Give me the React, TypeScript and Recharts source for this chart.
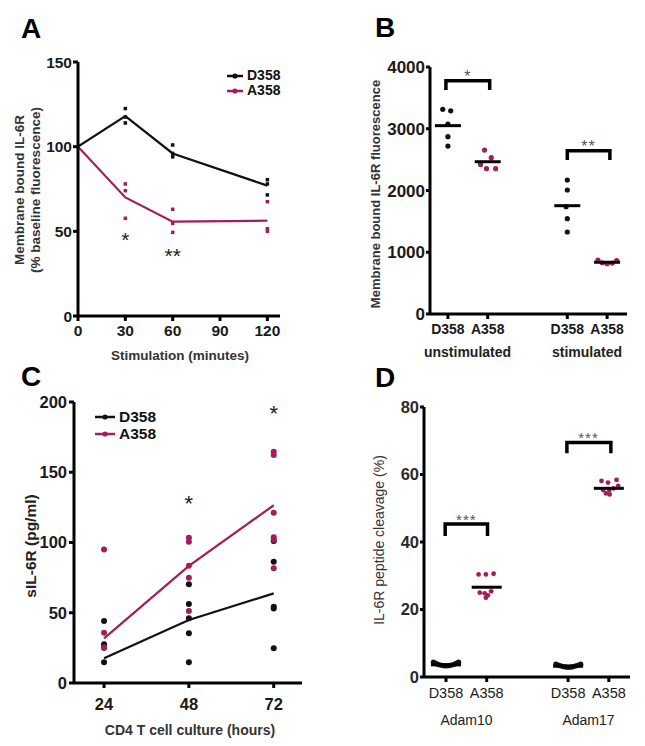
import React from 'react';
import { ComposedChart, Line, Scatter, XAxis, YAxis, Legend } from 'recharts';

const FONT = '"Liberation Sans", Arial, Helvetica, sans-serif';
const BLACK = '#111111';
const MAGENTA = '#a31d5b';
const seriesNames = ['D358', 'A358'];
const seriesColors = [BLACK, MAGENTA];

// ---------- Panel A ----------
const aTimes = [0, 30, 60, 120];
const aD358Mean = [100, 118, 96, 77];
const aA358Mean = [100, 70, 55.7, 56.3];
const aRepTimes = [30, 60, 120];
const aD358Reps = [[122.5, 117.5, 114], [101, 96, 94], [80.5, 78, 71.5]];
const aA358Reps = [[78, 74, 57.7], [63, 54.7, 49.4], [67.5, 51.5, 50]];
const aStarTimes = [30, 60];
const aStarValues = [47.8, 38.6];
const aStarLabels = ['*', '**'];
const aXTicks = [0, 30, 60, 90, 120];
const aYTicks = [0, 50, 100, 150];

// ---------- Panel B ----------
const bPositions = [1, 2, 4, 5];
const bTickLabels = ['D358', 'A358', 'D358', 'A358'];
const bGroupLabels = ['unstimulated', 'stimulated'];
const bValues = [
  [3314, 3291, 3076, 2871, 2720],
  [2655, 2531, 2423, 2353, 2353],
  [2169, 2008, 1738, 1543, 1328],
  [874, 830, 815, 825, 865],
];
const bJitter = [
  [-0.13, 0.07, 0, 0, 0],
  [-0.08, 0.09, -0.18, -0.03, 0.2],
  [0, 0, -0.03, 0, 0],
  [-0.23, -0.12, 0, 0.13, 0.24],
];
const bMeans = [3050, 2466, 1754, 838];
const bBracketFrom = [0.95, 4];
const bBracketTo = [2.05, 5.07];
const bBracketTop = [3777, 2644];
const bBracketBottom = [3627, 2493];
const bStarX = [1.5, 4.53];
const bStarValues = [3910, 2773];
const bStarLabels = ['*', '**'];
const bYTicks = [0, 1000, 2000, 3000, 4000];

// ---------- Panel C ----------
const cHours = [24, 48, 72];
const cD358Mean = [17.6, 44.8, 63.8];
const cA358Mean = [31.8, 83.3, 126.5];
const cD358Reps = [
  [44.1, 27.5, 26.8, 14.7],
  [70.2, 56.2, 46, 35.4, 14.7],
  [101, 86.3, 54.3, 53.1, 24.7],
];
const cA358Reps = [
  [95.1, 35.8, 25.4, 25],
  [103.4, 100.6, 83.5, 75, 51.2],
  [164.6, 162.3, 121.2, 103.7, 102, 81.6],
];
const cStarHours = [48, 72];
const cStarValues = [131.7, 195.7];
const cStarLabels = ['*', '*'];
const cYTicks = [0, 50, 100, 150, 200];

// ---------- Panel D ----------
const dPositions = [1, 2, 4, 5];
const dTickLabels = ['D358', 'A358', 'D358', 'A358'];
const dGroupLabels = ['Adam10', 'Adam17'];
const dValues = [
  [4.4, 4.1, 3.8, 3.6, 3.45, 3.35, 3.3, 3.35, 3.45, 3.6, 3.8, 4.1, 4.4],
  [30.4, 30.4, 30.6, 25.0, 24.8, 25.4, 24.2, 23.5],
  [3.8, 3.5, 3.3, 3.1, 3.0, 2.9, 2.9, 3.0, 3.1, 3.3, 3.5, 3.8],
  [58.1, 57.6, 58.4, 55.4, 55.4, 55.9, 54.1, 54.4, 56.6],
];
const dJitter = [
  [-0.31, -0.26, -0.21, -0.16, -0.1, -0.05, 0, 0.05, 0.1, 0.16, 0.21, 0.26, 0.31],
  [-0.2, -0.02, 0.17, -0.17, -0.05, 0.11, 0.03, -0.02],
  [-0.3, -0.24, -0.18, -0.12, -0.06, -0.02, 0.03, 0.08, 0.13, 0.19, 0.25, 0.31],
  [-0.18, -0.02, 0.19, -0.14, 0.01, 0.12, 0.02, -0.07, 0.23],
];
const dMeans = [3.6, 26.6, 3.2, 55.9];
const dBracketFrom = [0.98, 3.97];
const dBracketTo = [2.02, 5.05];
const dBracketTop = [45.3, 69.5];
const dBracketBottom = [41.8, 66.3];
const dStarX = [1.5, 4.5];
const dStarValues = [47.5, 71.9];
const dStarLabels = ['***', '***'];
const dYTicks = [0, 20, 40, 60, 80];

// ---------- helpers ----------
const toLine = (xs: number[], ys: number[]) => xs.map((x, i) => ({ x, y: ys[i] }));
const repsToPoints = (xs: number[], reps: number[][]) =>
  xs.flatMap((x, i) => reps[i].map((y) => ({ x, y })));
const jitterPoints = (pos: number[], vals: number[][], jit: number[][], idx: number[]) =>
  idx.flatMap((i) => vals[i].map((v, k) => ({ x: pos[i] + jit[i][k], y: v })));
const meanPoints = (pos: number[], means: number[], idx: number[]) =>
  idx.map((i) => ({ x: pos[i], y: means[i] }));
const labelPoints = (xs: number[], ys: number[], labels: string[]) =>
  xs.map((x, i) => ({ x, y: ys[i], label: labels[i] }));
const bracket = (from: number, to: number, top: number, bottom: number) => [
  { x: from, y: bottom },
  { x: from, y: top },
  { x: to, y: top },
  { x: to, y: bottom },
];

const circleShape = (color: string, r: number) => (p: any) => (
  <circle cx={p.cx} cy={p.cy} r={r} fill={color} />
);
const squareShape = (color: string, s: number) => (p: any) => (
  <rect x={p.cx - s / 2} y={p.cy - s / 2} width={s} height={s} fill={color} />
);
const dashShape = (w: number) => (p: any) => (
  <line x1={p.cx - w / 2} x2={p.cx + w / 2} y1={p.cy} y2={p.cy} stroke="#000" strokeWidth={3} />
);
const textShape = (fs: number, color: string, weight: number, spacing: number) => (p: any) => {
  const label = (p.payload && p.payload.label) || p.label;
  return (
    <text
      x={p.cx}
      y={p.cy + fs * 0.58}
      textAnchor="middle"
      fontSize={fs}
      fontWeight={weight}
      letterSpacing={spacing}
      fontFamily={FONT}
      fill={color}
    >
      {label}
    </text>
  );
};

const axisLine = { stroke: '#000', strokeWidth: 3 };
const tickLine = { stroke: '#000', strokeWidth: 3 };
const tickStyle = (fs: number, weight: number, fill = '#1a1a1a') => ({
  fontSize: fs,
  fontWeight: weight,
  fill,
  fontFamily: FONT,
});

const makeLegend = (rowH: number, fs: number, iconW: number) => () => (
  <div style={{ fontFamily: FONT, fontWeight: 700, fontSize: fs, color: '#111' }}>
    {seriesNames.map((n, i) => (
      <div key={n} style={{ display: 'flex', alignItems: 'center', height: rowH, overflow: 'visible' }}>
        <svg width={iconW} height={8} style={{ marginRight: 4, display: 'block' }}>
          <line x1={0} x2={iconW} y1={4} y2={4} stroke={seriesColors[i]} strokeWidth={2.5} />
          <circle cx={iconW / 2} cy={4} r={2.6} fill={seriesColors[i]} />
        </svg>
        <span style={{ lineHeight: rowH + 'px', display: 'block', height: rowH }}>{n}</span>
      </div>
    ))}
  </div>
);

function PanelA() {
  return (
    <ComposedChart width={300} height={370} margin={{ top: 62, right: 20, bottom: 0, left: 0 }}>
      <XAxis
        type="number"
        dataKey="x"
        domain={[0, 128]}
        ticks={aXTicks}
        interval={0}
        allowDataOverflow
        axisLine={axisLine}
        tickLine={tickLine}
        tickSize={5}
        tickMargin={4}
        height={54}
        tick={tickStyle(15.5, 700)}
      />
      <YAxis
        type="number"
        dataKey="y"
        domain={[0, 150]}
        ticks={aYTicks}
        interval={0}
        allowDataOverflow
        axisLine={axisLine}
        tickLine={tickLine}
        tickSize={5}
        tickMargin={1}
        width={78}
        tick={tickStyle(15.5, 700)}
      />
      <Line data={toLine(aTimes, aD358Mean)} dataKey="y" name={seriesNames[0]} type="linear" stroke={BLACK} strokeWidth={2.2} dot={false} isAnimationActive={false} />
      <Line data={toLine(aTimes, aA358Mean)} dataKey="y" name={seriesNames[1]} type="linear" stroke={MAGENTA} strokeWidth={2.2} dot={false} isAnimationActive={false} />
      <Scatter data={repsToPoints(aRepTimes, aD358Reps)} dataKey="y" legendType="none" shape={squareShape(BLACK, 3.5)} isAnimationActive={false} />
      <Scatter data={repsToPoints(aRepTimes, aA358Reps)} dataKey="y" legendType="none" shape={squareShape(MAGENTA, 3.5)} isAnimationActive={false} />
      <Scatter data={labelPoints(aStarTimes, aStarValues, aStarLabels)} dataKey="y" legendType="none" shape={textShape(21, '#222', 400, 0)} isAnimationActive={false} />
      <Legend
        layout="horizontal"
        verticalAlign="middle"
        align="center"
        content={makeLegend(15, 14, 16)}
        wrapperStyle={{ left: 227, top: 68, width: 70 }}
      />
    </ComposedChart>
  );
}

function PanelB() {
  return (
    <ComposedChart width={325} height={370} margin={{ top: 67, right: 18, bottom: 0, left: 0 }}>
      <XAxis
        type="number"
        dataKey="x"
        domain={[0.55, 5.5]}
        ticks={bPositions}
        interval={0}
        allowDataOverflow
        tickFormatter={(v: number) => bTickLabels[bPositions.indexOf(v)]}
        axisLine={axisLine}
        tickLine={tickLine}
        tickSize={5}
        tickMargin={5}
        height={56}
        tick={tickStyle(14, 700)}
      />
      <YAxis
        type="number"
        dataKey="y"
        domain={[0, 4000]}
        ticks={bYTicks}
        interval={0}
        allowDataOverflow
        axisLine={axisLine}
        tickLine={tickLine}
        tickSize={4}
        tickMargin={1}
        width={110}
        tick={tickStyle(17, 700)}
      />
      <Scatter data={jitterPoints(bPositions, bValues, bJitter, [0, 2])} dataKey="y" legendType="none" shape={circleShape(BLACK, 2.6)} isAnimationActive={false} />
      <Scatter data={jitterPoints(bPositions, bValues, bJitter, [1, 3])} dataKey="y" legendType="none" shape={circleShape(MAGENTA, 2.6)} isAnimationActive={false} />
      <Scatter data={meanPoints(bPositions, bMeans, [0, 1, 2, 3])} dataKey="y" legendType="none" shape={dashShape(26)} isAnimationActive={false} />
      {bBracketFrom.map((f, i) => (
        <Line
          key={'bb' + i}
          data={bracket(f, bBracketTo[i], bBracketTop[i], bBracketBottom[i])}
          dataKey="y"
          type="linear"
          legendType="none"
          stroke="#000"
          strokeWidth={3.5}
          strokeLinejoin="miter"
          dot={false}
          isAnimationActive={false}
        />
      ))}
      <Scatter data={labelPoints(bStarX, bStarValues, bStarLabels)} dataKey="y" legendType="none" shape={textShape(16, '#555', 400, 1)} isAnimationActive={false} />
    </ComposedChart>
  );
}

function PanelC() {
  return (
    <ComposedChart width={320} height={376} margin={{ top: 32, right: 18, bottom: 0, left: 0 }}>
      <XAxis
        type="number"
        dataKey="x"
        domain={[15.5, 80]}
        ticks={cHours}
        interval={0}
        allowDataOverflow
        axisLine={axisLine}
        tickLine={tickLine}
        tickSize={5}
        tickMargin={10}
        height={63}
        tick={tickStyle(16.5, 700)}
      />
      <YAxis
        type="number"
        dataKey="y"
        domain={[0, 200]}
        ticks={cYTicks}
        interval={0}
        allowDataOverflow
        axisLine={axisLine}
        tickLine={tickLine}
        tickSize={5}
        tickMargin={2}
        width={74}
        tick={tickStyle(16.5, 700)}
      />
      <Line data={toLine(cHours, cD358Mean)} dataKey="y" name={seriesNames[0]} type="linear" stroke={BLACK} strokeWidth={2.2} dot={false} isAnimationActive={false} />
      <Line data={toLine(cHours, cA358Mean)} dataKey="y" name={seriesNames[1]} type="linear" stroke={MAGENTA} strokeWidth={2.2} dot={false} isAnimationActive={false} />
      <Scatter data={repsToPoints(cHours, cD358Reps)} dataKey="y" legendType="none" shape={circleShape(BLACK, 3)} isAnimationActive={false} />
      <Scatter data={repsToPoints(cHours, cA358Reps)} dataKey="y" legendType="none" shape={circleShape(MAGENTA, 3)} isAnimationActive={false} />
      <Scatter data={labelPoints(cStarHours, cStarValues, cStarLabels)} dataKey="y" legendType="none" shape={textShape(22, '#222', 400, 0)} isAnimationActive={false} />
      <Legend
        layout="horizontal"
        verticalAlign="middle"
        align="center"
        content={makeLegend(17, 15.5, 20)}
        wrapperStyle={{ left: 95, top: 38, width: 80 }}
      />
    </ComposedChart>
  );
}

function PanelD() {
  return (
    <ComposedChart width={325} height={376} margin={{ top: 37, right: 15, bottom: 0, left: 0 }}>
      <XAxis
        type="number"
        dataKey="x"
        domain={[0.46, 5.52]}
        ticks={dPositions}
        interval={0}
        allowDataOverflow
        tickFormatter={(v: number) => dTickLabels[dPositions.indexOf(v)]}
        axisLine={axisLine}
        tickLine={tickLine}
        tickSize={5}
        tickMargin={6}
        height={69}
        tick={tickStyle(14.5, 400)}
      />
      <YAxis
        type="number"
        dataKey="y"
        domain={[0, 80]}
        ticks={dYTicks}
        interval={0}
        allowDataOverflow
        axisLine={axisLine}
        tickLine={tickLine}
        tickSize={4}
        tickMargin={1}
        width={104}
        tick={tickStyle(16.5, 700, '#2a2a2a')}
      />
      <Scatter data={jitterPoints(dPositions, dValues, dJitter, [0, 2])} dataKey="y" legendType="none" shape={circleShape(BLACK, 2.6)} isAnimationActive={false} />
      <Scatter data={jitterPoints(dPositions, dValues, dJitter, [1, 3])} dataKey="y" legendType="none" shape={circleShape(MAGENTA, 2.4)} isAnimationActive={false} />
      <Scatter data={meanPoints(dPositions, dMeans, [0, 1, 2, 3])} dataKey="y" legendType="none" shape={dashShape(30)} isAnimationActive={false} />
      {dBracketFrom.map((f, i) => (
        <Line
          key={'db' + i}
          data={bracket(f, dBracketTo[i], dBracketTop[i], dBracketBottom[i])}
          dataKey="y"
          type="linear"
          legendType="none"
          stroke="#000"
          strokeWidth={3.5}
          strokeLinejoin="miter"
          dot={false}
          isAnimationActive={false}
        />
      ))}
      <Scatter data={labelPoints(dStarX, dStarValues, dStarLabels)} dataKey="y" legendType="none" shape={textShape(15, '#555', 400, 1)} isAnimationActive={false} />
    </ComposedChart>
  );
}

const T = (props: any) => <text fontFamily={FONT} textAnchor="middle" dominantBaseline="central" {...props} />;

export default function App() {
  return (
    <div style={{ position: 'absolute', left: 0, top: 0, width: 645, height: 746, background: '#fff', overflow: 'hidden' }}>
      <div style={{ position: 'absolute', left: 0, top: 0 }}>
        <PanelA />
      </div>
      <div style={{ position: 'absolute', left: 320, top: 0 }}>
        <PanelB />
      </div>
      <div style={{ position: 'absolute', left: 0, top: 370 }}>
        <PanelC />
      </div>
      <div style={{ position: 'absolute', left: 320, top: 370 }}>
        <PanelD />
      </div>
      <svg width={645} height={746} style={{ position: 'absolute', left: 0, top: 0, pointerEvents: 'none' }}>
        <text x={21} y={38} fontFamily={FONT} fontWeight={700} fontSize={28} fill="#000">A</text>
        <text x={375} y={37} fontFamily={FONT} fontWeight={700} fontSize={28} fill="#000">B</text>
        <text x={21} y={386} fontFamily={FONT} fontWeight={700} fontSize={28} fill="#000">C</text>
        <text x={375} y={387} fontFamily={FONT} fontWeight={700} fontSize={28} fill="#000">D</text>

        <T x={19} y={190} transform="rotate(-90 19 190)" fontSize={13.5} fontWeight={700} fill="#333">Membrane bound IL-6R</T>
        <T x={35} y={190} transform="rotate(-90 35 190)" fontSize={13.5} fontWeight={700} fill="#333">(% baseline fluorescence)</T>
        <T x={180} y={355} fontSize={13.5} fontWeight={700} fill="#333">Stimulation (minutes)</T>

        <T x={375} y={194} transform="rotate(-90 375 194)" fontSize={13} fontWeight={700} fill="#333">Membrane bound IL-6R fluorescence</T>
        <T x={467.5} y={352} fontSize={14} fontWeight={700} fill="#222">{bGroupLabels[0]}</T>
        <T x={587} y={352} fontSize={14} fontWeight={700} fill="#222">{bGroupLabels[1]}</T>

        <T x={30} y={546} transform="rotate(-90 30 546)" fontSize={15.5} fontWeight={700} fill="#222">sIL-6R (pg/ml)</T>
        <T x={190} y={730} fontSize={14} fontWeight={700} fill="#333">CD4 T cell culture (hours)</T>

        <T x={379} y={540} transform="rotate(-90 379 540)" fontSize={14} fontWeight={400} fill="#333">IL-6R peptide cleavage (%)</T>
        <T x={466.5} y={720} fontSize={14} fontWeight={400} fill="#222">{dGroupLabels[0]}</T>
        <T x={588.5} y={720} fontSize={14} fontWeight={400} fill="#222">{dGroupLabels[1]}</T>
      </svg>
    </div>
  );
}
